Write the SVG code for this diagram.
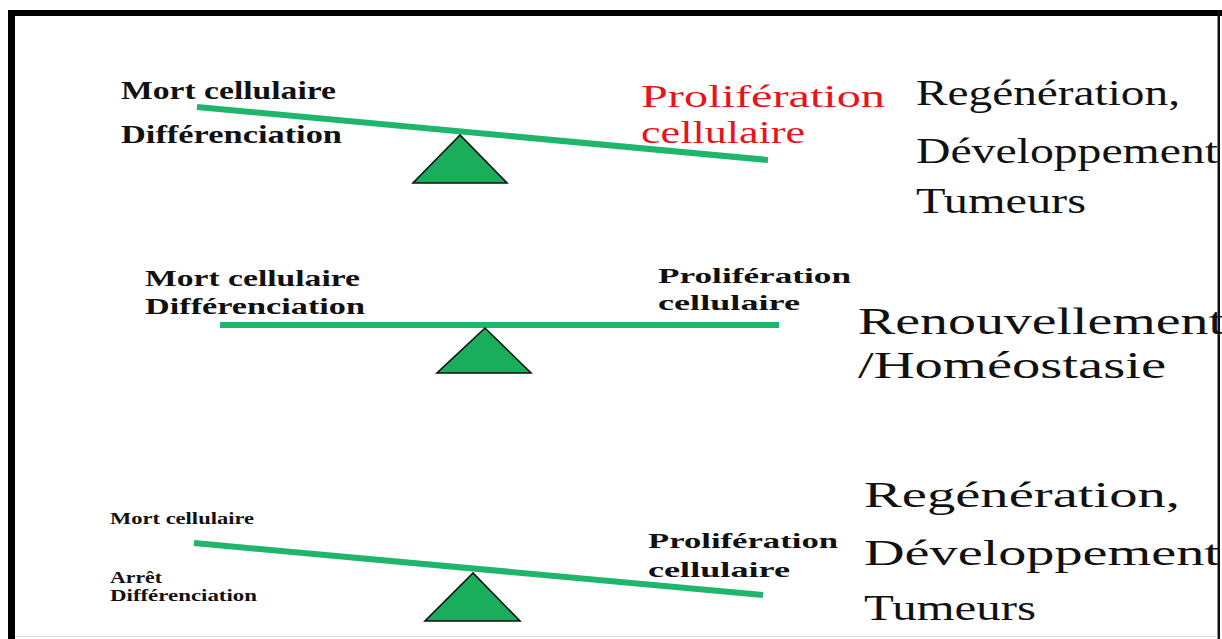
<svg xmlns="http://www.w3.org/2000/svg" width="1222" height="639" viewBox="0 0 1222 639">
<style>
.t{font-family:"Liberation Serif","Times New Roman",serif;fill:#111;}
.b{font-weight:bold;}
.red{fill:#e8141c;}
.beam{stroke:#1fb56c;stroke-width:6;stroke-linecap:butt;fill:none;}
.tri{fill:#1aae5c;stroke:#111;stroke-width:1.6;stroke-linejoin:miter;}
</style>
<rect x="0" y="0" width="1222" height="639" fill="#fff"/>

<g id="connectors">
  <line class="beam" x1="197" y1="107" x2="768" y2="160"/>
  <line class="beam" x1="220" y1="325" x2="779" y2="325"/>
  <line class="beam" x1="194" y1="543" x2="763" y2="595"/>
</g>

<g id="balance-top">
  <polygon class="tri" points="460,135 413,183 507,183"/>
  <text class="t b" x="121" y="99" font-size="25" textLength="215" lengthAdjust="spacingAndGlyphs">Mort cellulaire</text>
  <text class="t b" x="121" y="143" font-size="25" textLength="221" lengthAdjust="spacingAndGlyphs">Différenciation</text>
  <text class="t red" x="641" y="107" font-size="32" textLength="244" lengthAdjust="spacingAndGlyphs">Prolifération</text>
  <text class="t red" x="641" y="143" font-size="32" textLength="164" lengthAdjust="spacingAndGlyphs">cellulaire</text>
</g>
<g id="outcome-top">
  <text class="t" x="916" y="105" font-size="35" textLength="264" lengthAdjust="spacingAndGlyphs">Regénération,</text>
  <text class="t" x="916" y="163" font-size="35" textLength="302" lengthAdjust="spacingAndGlyphs">Développement</text>
  <text class="t" x="916" y="213" font-size="35" textLength="170" lengthAdjust="spacingAndGlyphs">Tumeurs</text>
</g>

<g id="balance-middle">
  <polygon class="tri" points="485,328 437,373 531,373"/>
  <text class="t b" x="145" y="286" font-size="23" textLength="215" lengthAdjust="spacingAndGlyphs">Mort cellulaire</text>
  <text class="t b" x="145" y="314" font-size="23" textLength="220" lengthAdjust="spacingAndGlyphs">Différenciation</text>
  <text class="t b" x="658" y="283" font-size="22" textLength="193" lengthAdjust="spacingAndGlyphs">Prolifération</text>
  <text class="t b" x="658" y="310" font-size="22" textLength="142" lengthAdjust="spacingAndGlyphs">cellulaire</text>
</g>
<g id="outcome-middle">
  <text class="t" x="858" y="334" font-size="37" textLength="366" lengthAdjust="spacingAndGlyphs">Renouvellement</text>
  <text class="t" x="858" y="378" font-size="37" textLength="308" lengthAdjust="spacingAndGlyphs">/Homéostasie</text>
</g>

<g id="balance-bottom">
  <polygon class="tri" points="473,573 425,621 520,621"/>
  <text class="t b" x="110" y="524" font-size="16" textLength="144" lengthAdjust="spacingAndGlyphs">Mort cellulaire</text>
  <text class="t b" x="110" y="583" font-size="16" textLength="52" lengthAdjust="spacingAndGlyphs">Arrêt</text>
  <text class="t b" x="110" y="601" font-size="16" textLength="147" lengthAdjust="spacingAndGlyphs">Différenciation</text>
  <text class="t b" x="648" y="548" font-size="22" textLength="190" lengthAdjust="spacingAndGlyphs">Prolifération</text>
  <text class="t b" x="648" y="577" font-size="22" textLength="142" lengthAdjust="spacingAndGlyphs">cellulaire</text>
</g>
<g id="outcome-bottom">
  <text class="t" x="864" y="507" font-size="35" textLength="316" lengthAdjust="spacingAndGlyphs">Regénération,</text>
  <text class="t" x="864" y="565" font-size="35" textLength="356" lengthAdjust="spacingAndGlyphs">Développement</text>
  <text class="t" x="864" y="620" font-size="35" textLength="172" lengthAdjust="spacingAndGlyphs">Tumeurs</text>
</g>

<g id="frame">
  <rect x="8" y="10" width="1214" height="6" fill="#000"/>
  <rect x="8" y="10" width="7" height="629" fill="#000"/>
  <rect x="1217.5" y="10" width="2.5" height="629" fill="#111"/>
  <line x1="15" y1="636.5" x2="1218" y2="636.5" stroke="#d8d8d8" stroke-width="1"/>
</g>
</svg>
